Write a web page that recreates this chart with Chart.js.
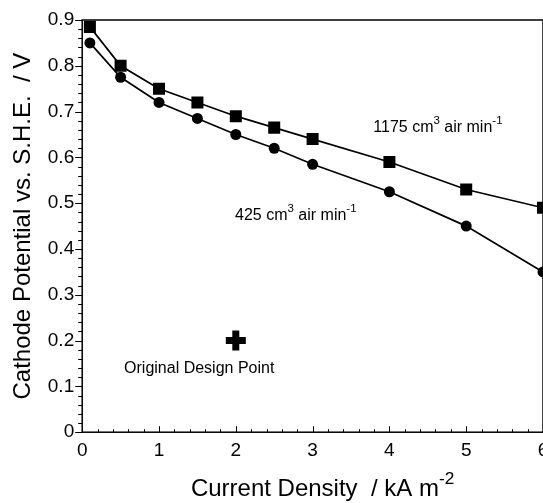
<!DOCTYPE html>
<html>
<head>
<meta charset="utf-8">
<script src="https://cdn.jsdelivr.net/npm/chart.js@4"></script>
<style>
  html, body { margin: 0; padding: 0; background: #fff; overflow: hidden; }
  #wrap { width: 543px; height: 503px; overflow: hidden; }
</style>
</head>
<body>
<div id="wrap"><canvas id="chart" width="560" height="503"></canvas></div>
<script>
// current density, kA m^-2
const currentDensity = [0.1, 0.5, 1, 1.5, 2, 2.5, 3, 4, 5, 6];
// cathode potential vs. S.H.E., V
const potential1175 = [0.885, 0.80, 0.75, 0.72, 0.69, 0.665, 0.64, 0.59, 0.53, 0.49];
const potential425 = [0.85, 0.775, 0.72, 0.685, 0.65, 0.62, 0.585, 0.525, 0.45, 0.35];
const designPoint = [{ x: 2, y: 0.2 }];
const xTicks = [0, 1, 2, 3, 4, 5, 6];
const yTicks = [0, 0.1, 0.2, 0.3, 0.4, 0.5, 0.6, 0.7, 0.8, 0.9];

const FONT = '"Liberation Sans", Arial, Helvetica, sans-serif';

// text annotations, anchored in data units (left edge, vertical middle)
const notes = [
    { x: 3.79, y: 0.665, parts: [['1175 cm'], ['3', true], [' air min'], ['-1', true]] },
    { x: 1.99, y: 0.474, parts: [['425 cm'], ['3', true], [' air min'], ['-1', true]] },
    { x: 0.545, y: 0.138, parts: [['Original Design Point']] }
];

function drawRich(ctx, parts, x, y, size, align) {
    let total = 0;
    parts.forEach(p => {
        ctx.font = (p[1] ? size * 0.72 : size) + 'px ' + FONT;
        total += ctx.measureText(p[0]).width;
    });
    let cx = align === 'center' ? x - total / 2 : x;
    ctx.textBaseline = 'middle';
    ctx.textAlign = 'left';
    parts.forEach(p => {
        const s = p[1] ? size * 0.72 : size;
        ctx.font = s + 'px ' + FONT;
        ctx.fillText(p[0], cx, p[1] ? y - size * 0.42 : y);
        cx += ctx.measureText(p[0]).width;
    });
}

const decorations = {
    id: 'decorations',
    afterDraw(chart) {
        const ctx = chart.ctx;
        const a = chart.chartArea;
        const xs = chart.scales.x;
        const ys = chart.scales.y;
        ctx.save();
        ctx.strokeStyle = '#000';
        ctx.fillStyle = '#000';
        ctx.lineWidth = 1.5;
        ctx.strokeRect(a.left, a.top, a.right - a.left, a.bottom - a.top);

        ctx.lineWidth = 1;
        ctx.beginPath();
        for (let i = 0; i <= 45; i++) {
            const py = Math.round(ys.getPixelForValue(i * 0.02)) + 0.5;
            const len = i % 5 === 0 ? 7 : 4;
            ctx.moveTo(a.left - len, py);
            ctx.lineTo(a.left, py);
        }
        for (let i = 0; i <= 30; i++) {
            const px = Math.round(xs.getPixelForValue(i * 0.2)) + 0.5;
            const len = i % 5 === 0 ? 6 : 3;
            ctx.moveTo(px, a.bottom);
            ctx.lineTo(px, a.bottom - len);
        }
        ctx.stroke();

        notes.forEach(n => {
            drawRich(ctx, n.parts, xs.getPixelForValue(n.x), ys.getPixelForValue(n.y), 16, 'left');
        });

        drawRich(ctx, [['Current Density  / kA m'], ['-2', true]],
            (a.left + a.right) / 2 + 10, 489, 24, 'center');
        ctx.restore();
    }
};

new Chart(document.getElementById('chart'), {
    type: 'scatter',
    data: {
        datasets: [
            {
                label: '1175 cm3 air min-1',
                data: currentDensity.map((x, i) => ({ x: x, y: potential1175[i] })),
                showLine: true,
                borderColor: '#000',
                backgroundColor: '#000',
                borderWidth: 1.7,
                pointStyle: 'rect',
                pointRadius: 8.5,
                pointBorderWidth: 0
            },
            {
                label: '425 cm3 air min-1',
                data: currentDensity.map((x, i) => ({ x: x, y: potential425[i] })),
                showLine: true,
                borderColor: '#000',
                backgroundColor: '#000',
                borderWidth: 1.7,
                pointStyle: 'circle',
                pointRadius: 5.5,
                pointBorderWidth: 0
            },
            {
                label: 'Original Design Point',
                data: designPoint,
                borderColor: '#000',
                backgroundColor: '#000',
                pointStyle: 'cross',
                pointRadius: 10,
                pointBorderWidth: 7
            }
        ]
    },
    options: {
        responsive: false,
        animation: false,
        layout: { padding: { top: 20, bottom: 34, left: 0 } },
        plugins: {
            legend: { display: false },
            tooltip: { enabled: false }
        },
        scales: {
            x: {
                type: 'linear',
                min: 0,
                max: 6,
                afterBuildTicks: s => { s.ticks = xTicks.map(v => ({ value: v })); },
                ticks: { color: '#000', font: { family: FONT, size: 19 }, padding: 7 },
                grid: { display: false, drawTicks: false },
                border: { display: false }
            },
            y: {
                type: 'linear',
                min: 0,
                max: 0.9,
                afterBuildTicks: s => { s.ticks = yTicks.map(v => ({ value: v })); },
                ticks: { color: '#000', font: { family: FONT, size: 19 }, padding: 8 },
                grid: { display: false, drawTicks: false },
                border: { display: false },
                title: {
                    display: true,
                    text: 'Cathode Potential vs. S.H.E.  / V',
                    color: '#000',
                    font: { family: FONT, size: 24 },
                    padding: { top: 9, bottom: 2 }
                }
            }
        }
    },
    plugins: [decorations]
});
</script>
</body>
</html>
